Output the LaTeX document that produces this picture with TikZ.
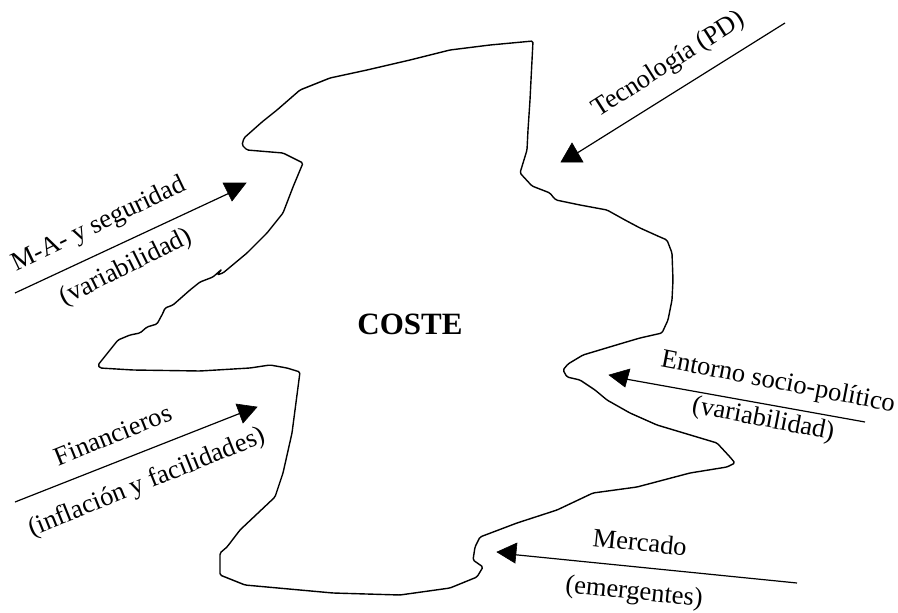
\documentclass[tikz,border=0pt]{standalone}
\usepackage{fontspec}
\setmainfont{Liberation Serif}
\begin{document}
\begin{tikzpicture}[x=1pt,y=-1pt,
  outline/.style={line width=1.4pt,line join=round,rounded corners=1.5pt},
  feed/.style={line width=1.2pt},
  head/.style={fill=black,draw=black,line width=0.6pt,line join=miter},
  lbl/.style={inner sep=0pt,font=\fontsize{26.5}{29}\selectfont}]
\useasboundingbox (0,0) rectangle (898,613);

% irregular outline of the cost region
\draw[outline]
  (244,138) -- (262,122) -- (277,110) -- (300,90) -- (330,78) -- (367,70)
  -- (410,60) -- (450,50) -- (490,45) -- (533,41)
  -- (531,80) -- (530,100) -- (528,130) -- (527,150) -- (520,173)
  -- (532,186) -- (550,193) -- (553,197) -- (556,200) -- (580,205) -- (607,210)
  -- (625,220) -- (640,228) -- (660,237) -- (667,240) -- (672,253)
  -- (673,280) -- (672,300) -- (668,320) -- (662,333)
  -- (640,338) -- (623,343) -- (583,355) -- (568,364) -- (563,370)
  -- (567,377) -- (580,380) -- (595,390) -- (607,400) -- (630,413) -- (657,425)
  -- (697,437) -- (717,443) -- (730,457) -- (735,463) -- (727,467)
  -- (690,473) -- (637,487) -- (593,493) -- (557,510) -- (517,523)
  -- (480,537) -- (475,547) -- (473,560) -- (483,567) -- (477,577)
  -- (450,588) -- (400,595) -- (333,593) -- (245,585) -- (220,575)
  -- (220,553) -- (227,547) -- (240,530) -- (275,497) -- (283,473)
  -- (292,433) -- (300,372)
  -- (287,368) -- (270,365) -- (250,368) -- (200,371) -- (133,370)
  -- (100,368) -- (98,365) -- (118,340) -- (130,335) -- (140,333)
  -- (147,327) -- (157,324) -- (163,313) -- (165,308)
  -- (173,305) -- (190,290) -- (200,282) -- (213,277) -- (222,269)
  -- (217,275) -- (223,273) -- (247,253) -- (267,233) -- (283,213)
  -- (293,187) -- (303,163) -- (283,153) -- (247,150) -- (242,145) -- cycle;

% centre label
\node[font=\bfseries\fontsize{31}{34}\selectfont,inner sep=0pt] (coste) at (410,324) {COSTE};

% end points of the influence arrows
\coordinate (maS) at (15,293);   \coordinate (maE) at (236,190);
\coordinate (teS) at (785,23);   \coordinate (teE) at (574,155);
\coordinate (fiS) at (15,502);   \coordinate (fiE) at (246,411);
\coordinate (enS) at (865,422);  \coordinate (enE) at (620,378);
\coordinate (meS) at (797,583);  \coordinate (meE) at (508,554);

\draw[feed] (maS) -- (maE);
\draw[feed] (teS) -- (teE);
\draw[feed] (fiS) -- (fiE);
\draw[feed] (enS) -- (enE);
\draw[feed] (meS) -- (meE);

% solid triangular heads
\fill[head] (223,183) -- (246,183) -- (232,201) -- cycle;
\fill[head] (572,143) -- (561,162) -- (583,162) -- cycle;
\fill[head] (236,404) -- (257,407) -- (243,423) -- cycle;
\fill[head] (609,375) -- (630,369) -- (625,387) -- cycle;
\fill[head] (497,552) -- (517,543) -- (515,563) -- cycle;

% labels
\node[lbl,rotate=25.6] (ma1) at (99,225) {M-A- y seguridad};
\node[lbl,rotate=26.5] (ma2) at (126,268) {(variabilidad)};
\node[lbl,rotate=32.5] (te1) at (669,65) {Tecnología (PD)};
\node[lbl,rotate=22] (fi1) at (113,435) {Financieros};
\node[lbl,rotate=22] (fi2) at (147,483) {(inflación y facilidades)};
\node[lbl,rotate=-11] (en1) at (778,383) {Entorno socio-político};
\node[lbl,rotate=-11] (en2) at (763,420) {(variabilidad)};
\node[lbl,rotate=-6] (me1) at (640,542) {Mercado};
\node[lbl,rotate=-6] (me2) at (634,593) {(emergentes)};
\end{tikzpicture}
\end{document}
